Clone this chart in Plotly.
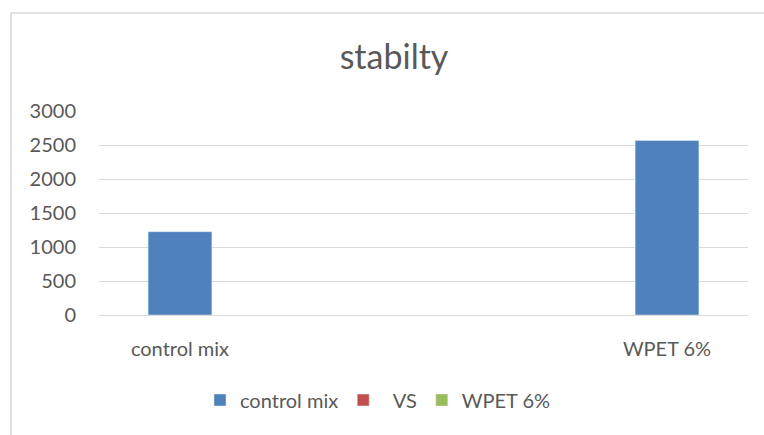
import plotly.graph_objects as go

# Marshall stability results
categories = ["control mix", "WPET 6%"]
control_mix = [1225, 2565]
vs_values = [None, None]
wpet_values = [None, None]

y_ticks = [0, 500, 1000, 1500, 2000, 2500, 3000]

W, H = 764, 435
ML, MR, MT, MB = 99, 16, 111, 120
pw = W - ML - MR
ph = H - MT - MB

FONT = "Lato, Open Sans, sans-serif"
TXT = "#595959"
GRID = "#D9D9D9"


def px_x(p):
    return (p - ML) / pw


def px_y(p):
    return (H - MB - p) / ph


fig = go.Figure()
fig.add_trace(go.Bar(x=categories, y=control_mix, name="control mix",
                     marker_color="#4F81BD", width=0.131))
fig.add_trace(go.Bar(x=categories, y=vs_values, name="\u00a0\u00a0VS",
                     marker_color="#C0504D", width=0.131))
fig.add_trace(go.Bar(x=categories, y=wpet_values, name="WPET 6%",
                     marker_color="#9BBB59", width=0.131))

fig.update_layout(
    width=W, height=H,
    margin=dict(l=ML, r=MR, t=MT, b=MB),
    paper_bgcolor="white", plot_bgcolor="white",
    barmode="overlay",
    font=dict(family=FONT, color=TXT, size=20),
    title=dict(text="stabilty", x=px_x(394), xref="paper", xanchor="center",
               y=1 - 57 / H, yanchor="middle",
               font=dict(size=34, color=TXT, family=FONT)),
    showlegend=True,
    legend=dict(orientation="h", x=px_x(378), xanchor="center",
                y=px_y(400), yanchor="middle", itemwidth=30,
                font=dict(size=20, color=TXT, family=FONT),
                itemclick=False, traceorder="normal"),
    xaxis=dict(type="category", range=[-0.1663, 1.1663],
               showgrid=False, showline=True, linecolor=GRID, linewidth=1,
               ticks="", ticklabelstandoff=16, tickfont=dict(size=20, color=TXT)),
    yaxis=dict(range=[0, 3000], tickvals=y_ticks, showgrid=True,
               gridcolor=GRID, gridwidth=1, zeroline=False, showline=False,
               ticks="", ticklabelstandoff=22, tickfont=dict(size=20, color=TXT)),
    shapes=[dict(type="rect", xref="paper", yref="paper",
                 x0=px_x(11), x1=px_x(790), y0=px_y(470), y1=px_y(13),
                 line=dict(color=GRID, width=1.5), fillcolor="rgba(0,0,0,0)",
                 layer="below")],
)

fig.write_html("out.html")
